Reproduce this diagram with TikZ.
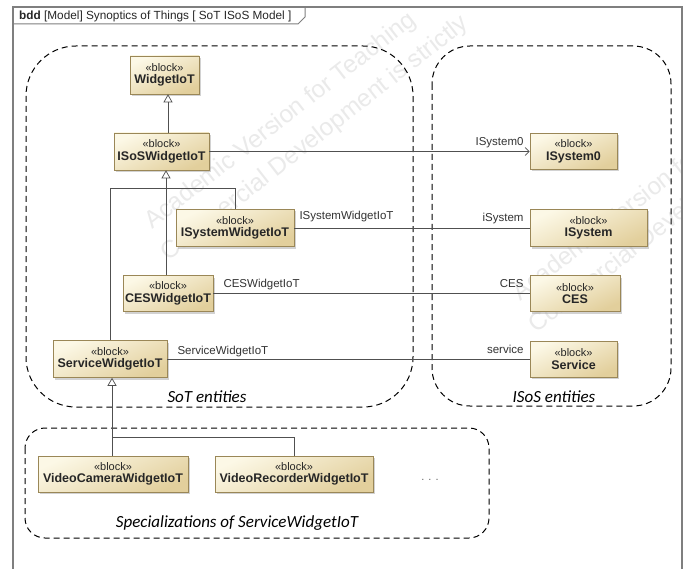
\documentclass[tikz,border=0pt]{standalone}
\usepackage{fontspec}
\setmainfont{Liberation Sans}
\newfontfamily\calib{Carlito}
\usetikzlibrary{arrows.meta,shadows,calc}
\definecolor{blkLight}{HTML}{FCF8E6}
\definecolor{blkDark}{HTML}{E2CF9C}
\definecolor{blkBorder}{HTML}{9A8757}
\definecolor{frameGray}{HTML}{7F7F7F}
\definecolor{lineGray}{HTML}{505050}
\definecolor{wmGray}{HTML}{EAEAEA}
\newcommand\blk[1]{{\fontsize{11}{12}\selectfont «block»}\\[0.5pt]{\fontsize{12.5}{14}\selectfont\bfseries #1}}
\tikzset{
  blockbox/.style={draw=blkBorder, line width=0.6pt, top color=blkLight, bottom color=blkDark, shading angle=25,
    inner sep=0pt, align=center, text=black!85,
    drop shadow={shadow xshift=2pt, shadow yshift=-2pt, fill=black!35, opacity=0.5}},
  conn/.style={draw=lineGray, line width=0.7pt},
  gen/.style={conn, -{Triangle[open, length=8pt, width=9pt, fill=white]}},
  assoc/.style={conn, -{Straight Barb[length=4pt, width=8pt]}},
  lbl/.style={font=\fontsize{11.5}{13}\selectfont, text=black!80, inner sep=0pt},
  region/.style={draw=black, line width=1pt, dash pattern=on 6pt off 4pt},
  regionlbl/.style={font=\calib\itshape\fontsize{17}{20}\selectfont, inner sep=0pt},
  wm/.style={text=wmGray, font=\fontsize{24.5}{26}\selectfont, rotate=38, anchor=base west, inner sep=0pt}
}
\begin{document}
\begin{tikzpicture}[x=1pt,y=-1pt]
\useasboundingbox[fill=white] (0,0) rectangle (687,569);
% watermark
\begin{scope}
\clip (13,7) rectangle (682,569);
\node[wm] (wm1) at (152,230) {Academic Version for Teaching};
\node[wm] (wm2) at (168,262) {Commercial Development is strictly};
\node[wm] (wm3) at (520,302) {Academic Version for Teaching};
\node[wm] (wm4) at (536,334) {Commercial Development is strictly};
\end{scope}
% frame
\draw[frameGray, line width=1.5pt] (13,575) -- (13,7) -- (682,7) -- (682,575);
\draw[frameGray, line width=1pt] (13,24) -- (298,24) -- (305,17) -- (305,7);
\node[anchor=base west, inner sep=0pt, font=\fontsize{11.8}{13}\selectfont, text=black!85] (title) at (19,20)
  {\textbf{bdd} [Model] Synoptics of Things [ SoT ISoS Model ]};
% regions
\draw[region, rounded corners=50pt] (26,46) rectangle (413,407);
\draw[region, rounded corners=38pt] (432,46) rectangle (671,406);
\draw[region, rounded corners=20pt] (25,428) rectangle (489,538);
\node[regionlbl] (l1) at (207,397) {SoT entities};
\node[regionlbl] (l2) at (554,397) {ISoS entities};
\node[regionlbl] (l3) at (237,523) {Specializations of ServiceWidgetIoT};
% blocks
\node[blockbox, minimum width=69pt, minimum height=38pt] (wid) at (164.5,75) {\blk{WidgetIoT}};
\node[blockbox, minimum width=95pt, minimum height=37pt] (isos) at (161.5,151.5) {\blk{ISoSWidgetIoT}};
\node[blockbox, minimum width=118pt, minimum height=37pt] (isw) at (235,228) {\blk{ISystemWidgetIoT}};
\node[blockbox, minimum width=90pt, minimum height=36pt] (cesw) at (168,293.5) {\blk{CESWidgetIoT}};
\node[blockbox, minimum width=114pt, minimum height=37pt] (serw) at (110,359) {\blk{ServiceWidgetIoT}};
\node[blockbox, minimum width=87pt, minimum height=36pt] (isys0) at (573.5,151.5) {\blk{ISystem0}};
\node[blockbox, minimum width=117pt, minimum height=37pt] (isys) at (588.5,228) {\blk{ISystem}};
\node[blockbox, minimum width=90pt, minimum height=36pt] (ces) at (575,293.5) {\blk{CES}};
\node[blockbox, minimum width=87pt, minimum height=36pt] (serv) at (573.5,359) {\blk{Service}};
\node[blockbox, minimum width=150pt, minimum height=36pt] (vcw) at (113,474) {\blk{VideoCameraWidgetIoT}};
\node[blockbox, minimum width=158pt, minimum height=36pt] (vrw) at (294,474) {\blk{VideoRecorderWidgetIoT}};
\node[font=\fontsize{11}{13}\selectfont, text=black!60, inner sep=0pt] (dots) at (430,480) {. . .};
% generalizations
\draw[gen] ([xshift=6.5pt]isos.north) -- ([xshift=3.5pt]wid.south);
\coordinate (j1) at (166,188);
\draw[gen] (j1) -- (j1 |- isos.south);
\draw[conn] (cesw.north -| j1) -- (j1);
\draw[conn] (isw.north) |- (j1);
\draw[conn] (serw.north) |- (j1);
\coordinate (j2) at (112,437);
\draw[gen] (j2) -- (j2 |- serw.south);
\draw[conn] (vcw.north -| j2) -- (j2);
\draw[conn] (vrw.north) |- (j2);
% associations
\draw[assoc] (isos.east) -- (isys0.west);
\draw[conn] (isw.east) -- (isys.west);
\draw[conn] (cesw.east) -- (ces.west);
\draw[conn] (serw.east) -- (serv.west);
% association labels
\node[lbl, anchor=base east] (a1) at ([xshift=-6pt, yshift=6pt]isys0.west) {ISystem0};
\node[lbl, anchor=base west] (a2) at ([xshift=5pt, yshift=8pt]isw.east) {ISystemWidgetIoT};
\node[lbl, anchor=base east] (a3) at ([xshift=-6pt, yshift=6pt]isys.west) {iSystem};
\node[lbl, anchor=base west] (a4) at ([xshift=10pt, yshift=6pt]cesw.east) {CESWidgetIoT};
\node[lbl, anchor=base east] (a5) at ([xshift=-6pt, yshift=6pt]ces.west) {CES};
\node[lbl, anchor=base west] (a6) at ([xshift=10pt, yshift=5pt]serw.east) {ServiceWidgetIoT};
\node[lbl, anchor=base east] (a7) at ([xshift=-6pt, yshift=6pt]serv.west) {service};
\end{tikzpicture}
\end{document}
